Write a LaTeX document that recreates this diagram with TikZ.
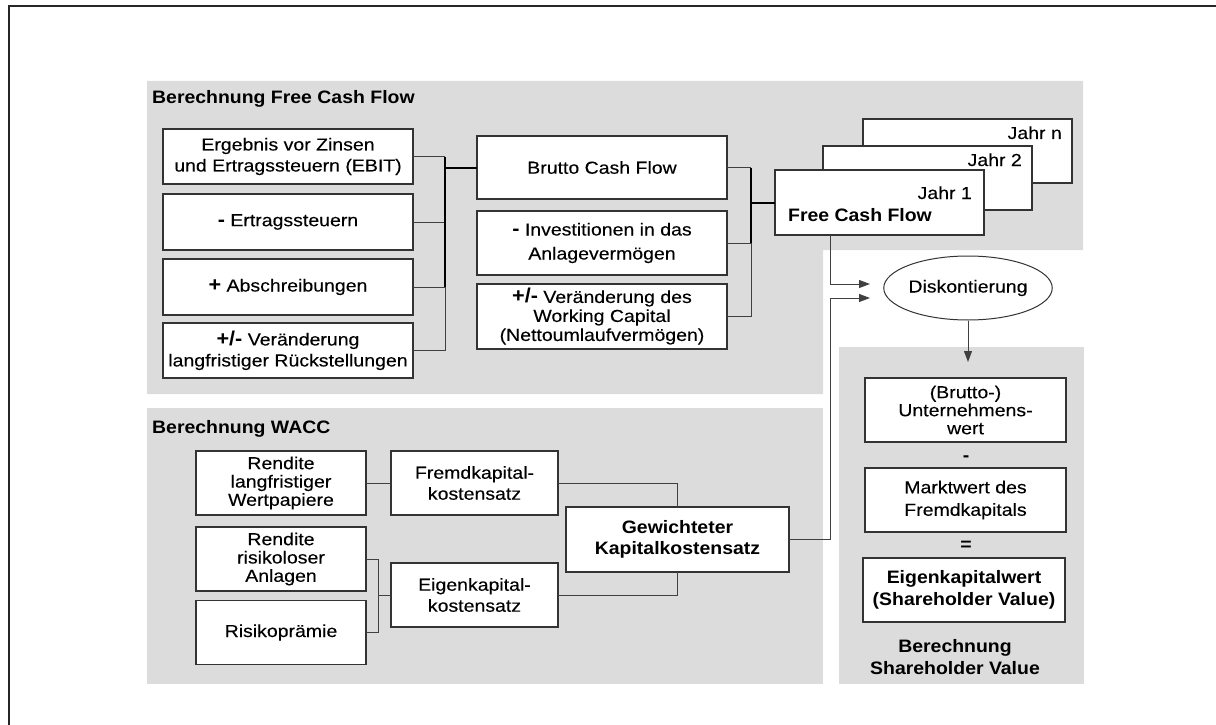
\documentclass[tikz,border=0pt]{standalone}
\usepackage{fontspec}
\setmainfont{Liberation Sans}[FakeStretch=1.12, FakeBold=0.2]
\newfontfamily\headfam{Liberation Sans Bold}[FakeStretch=1.08]
\usetikzlibrary{arrows.meta,shapes.geometric}
\definecolor{panelgray}{HTML}{DCDCDC}
\definecolor{edgegray}{HTML}{333333}
\definecolor{linegray}{HTML}{404040}
% font helpers: regular / bold with a given line spacing
\newcommand\regtxt[1]{\fontsize{17.4}{#1}\selectfont}
\newcommand\boldtxt[1]{\fontsize{18}{#1}\selectfont\headfam}
% bold sign in front of a line item
\newcommand\sign[1]{{\fontsize{20}{20}\selectfont\headfam #1}}
\begin{document}
\begin{tikzpicture}[x=1pt,y=-1pt,
  box/.style={draw=edgegray, line width=1.2pt, fill=white, inner sep=1pt,
    outer sep=0pt, align=center, font=\regtxt{21}},
  conn/.style={draw=linegray, line width=1pt},
  mainconn/.style={draw=black, line width=2pt},
  tip/.style={-{Triangle[length=11pt,width=8pt]}},
  paneltitle/.style={anchor=base west, font=\boldtxt{21}, inner sep=0pt}]
\useasboundingbox (0,0) rectangle (1216,725);

% background panels
\fill[panelgray] (147,81) -- (1083,81) -- (1083,250) -- (823,250) -- (823,394) -- (147,394) -- cycle;
\fill[panelgray] (147,408) rectangle (823,684);
\fill[panelgray] (839,347) rectangle (1084,684);

% outer frame
\draw[line width=2pt, draw=black!85] (9,725) -- (9,6) -- (1216,6);

% panel titles
\node[paneltitle] (tfcfpanel) at (152,103) {Berechnung Free Cash Flow};
\node[paneltitle] (twacc) at (152,433) {Berechnung WACC};

% --- Free Cash Flow: first column
\node[box, minimum width=250pt, minimum height=55pt] (ebit) at (288,156.5) {Ergebnis vor Zinsen\\und Ertragssteuern (EBIT)};
\node[box, minimum width=250pt, minimum height=56pt] (steuer) at (288,222) {\sign{-} Ertragssteuern};
\node[box, minimum width=250pt, minimum height=56pt] (abschr) at (288,287) {\sign{+} Abschreibungen};
\node[box, minimum width=250pt, minimum height=55pt] (rueck) at (288,350.5) {\sign{+/-} Veränderung\\langfristiger Rückstellungen};

% --- Free Cash Flow: second column
\node[box, minimum width=250pt, minimum height=63pt] (brutto) at (602,167.5) {Brutto Cash Flow};
\node[box, minimum width=250pt, minimum height=64pt, font=\regtxt{24}] (invest) at (602,243) {\sign{-} Investitionen in das\\Anlagevermögen};
\node[box, minimum width=250pt, minimum height=65pt, font=\regtxt{19}] (wc) at (602,316.5) {\sign{+/-} Veränderung des\\Working Capital\\(Nettoumlaufvermögen)};

% --- stacked yearly Free Cash Flow boxes
\node[box, minimum width=209pt, minimum height=64pt] (jn) at (967.5,151) {};
\node[box, minimum width=209pt, minimum height=64pt] (j2) at (927.5,178) {};
\node[box, minimum width=209pt, minimum height=65pt] (j1) at (879.5,202.5) {};
\node[anchor=base east, inner sep=0pt, font=\regtxt{21}] (tjn) at (1062,139) {Jahr n};
\node[anchor=base east, inner sep=0pt, font=\regtxt{21}] (tj2) at (1022,166) {Jahr 2};
\node[anchor=base east, inner sep=0pt, font=\regtxt{21}] (tj1) at (972,199) {Jahr 1};
\node[anchor=base west, inner sep=0pt, font=\boldtxt{21}] (tfcf) at (788,221) {Free Cash Flow};

% --- discounting
\node[draw=edgegray, line width=1pt, ellipse, fill=white, inner sep=0pt,
  minimum width=162pt, minimum height=64pt, font=\regtxt{21}] (disk) at (968,288) {Diskontierung};

% --- Shareholder Value
\node[box, minimum width=201pt, minimum height=64pt, font=\regtxt{18}] (uw) at (965.5,410) {(Brutto-)\\Unternehmens-\\wert};
\node[inner sep=0pt, font=\boldtxt{21}] (minus) at (966,459) {-};
\node[box, minimum width=201pt, minimum height=64pt, font=\regtxt{22.5}] (mw) at (965.5,500) {Marktwert des\\Fremdkapitals};
\node[inner sep=0pt, font=\boldtxt{21}] (equals) at (966,546) {=};
\node[box, minimum width=202pt, minimum height=64pt, font=\boldtxt{22}] (ekw) at (964,590) {Eigenkapitalwert\\(Shareholder Value)};
\node[align=center, inner sep=0pt, font=\boldtxt{21.7}] (tsv) at (955,657) {Berechnung\\Shareholder Value};

% --- WACC
\node[box, minimum width=170pt, minimum height=64pt, font=\regtxt{18.3}] (rlw) at (281,483) {Rendite\\langfristiger\\Wertpapiere};
\node[box, minimum width=170pt, minimum height=64pt, font=\regtxt{18.3}] (rra) at (281,559) {Rendite\\risikoloser\\Anlagen};
\node[box, minimum width=170pt, minimum height=64pt] (rp) at (281,632.5) {Risikoprämie};
\node[box, minimum width=167pt, minimum height=64pt] (fk) at (474.5,483) {Fremdkapital-\\kostensatz};
\node[box, minimum width=167pt, minimum height=64pt] (ekk) at (474.5,595) {Eigenkapital-\\kostensatz};
\node[box, minimum width=223pt, minimum height=65pt, font=\boldtxt{21}] (gew) at (677.5,539.5) {Gewichteter\\Kapitalkostensatz};

% bus positions and free arrow ends
\coordinate (busL) at (445,0);
\coordinate (busM) at (751,0);
\coordinate (busW) at (378,0);
\coordinate (drop) at (830,0);
\coordinate (in1) at (870,284);
\coordinate (in2) at (870,298);
\coordinate (svin) at (968,362);

% connectors: first column to Brutto Cash Flow
\draw[conn] (ebit.east) -- (ebit.east -| busL);
\draw[conn] (steuer.east) -- (steuer.east -| busL);
\draw[conn] (abschr.east) -- (abschr.east -| busL);
\draw[conn] (rueck.east) -- (rueck.east -| busL);
\draw[conn] (abschr.east -| busL) -- (rueck.east -| busL);
\draw[mainconn] (ebit.east -| busL) -- (abschr.east -| busL);
\draw[mainconn] (brutto.west -| busL) -- (brutto.west);

% connectors: second column to Free Cash Flow
\draw[conn] (brutto.east) -- (brutto.east -| busM);
\draw[conn] (invest.east) -- (invest.east -| busM);
\draw[conn] (wc.east) -- (wc.east -| busM);
\draw[conn] (invest.east -| busM) -- (wc.east -| busM);
\draw[mainconn] (brutto.east -| busM) -- (invest.east -| busM);
\draw[mainconn] (j1.west -| busM) -- (j1.west);

% connectors: WACC
\draw[conn] (rlw.east) -- (fk.west);
\draw[conn] (rra.east) -- (rra.east -| busW) -- (rp.east -| busW) -- (rp.east);
\draw[conn] (ekk.west -| busW) -- (ekk.west);
\draw[conn] (fk.east) -| (gew.north);
\draw[conn] (ekk.east) -| (gew.south);

% arrows into the discounting step and on to the value
\draw[conn, tip] (j1.south -| drop) |- (in1);
\draw[conn, tip] (gew.east) -- (gew.east -| drop) |- (in2);
\draw[conn, tip] (disk.south) -- (svin);
\end{tikzpicture}
\end{document}
